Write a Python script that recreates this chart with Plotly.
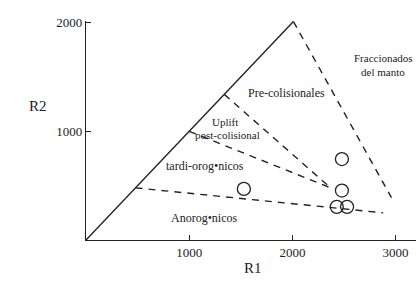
import plotly.graph_objects as go

# Field boundaries (R1, R2)
solid_x = [0, 2010]
solid_y = [0, 2010]
mantle_x = [2010, 2960]
mantle_y = [2010, 390]
uplift_top_x = [1340, 2370]
uplift_top_y = [1340, 480]
uplift_bot_x = [1000, 2370]
uplift_bot_y = [1000, 480]
anorog_x = [480, 2880]
anorog_y = [480, 250]

# Samples
samples_r1 = [1530, 2480, 2480, 2430, 2530]
samples_r2 = [470, 745, 455, 305, 305]

x_ticks = [1000, 2000, 3000]
y_ticks = [1000, 2000]

# Field labels
field_labels = ["Pre-colisionales", "Uplift", "post-colisional", "tardi-orog•nicos",
                "Anorog•nicos", "Fraccionados", "del manto"]
field_r1 = [1945, 1345, 1375, 1150, 1145, 2885, 2880]
field_r2 = [1355, 1090, 964, 682, 205, 1672, 1544]
field_sizes = [12, 11, 11, 12, 12, 11, 11]

fig = go.Figure()
dash = "7px,6px"
fig.add_trace(go.Scatter(x=solid_x, y=solid_y, mode="lines",
                         line=dict(color="#222", width=1.4), cliponaxis=False))
for xs, ys in [(mantle_x, mantle_y), (uplift_top_x, uplift_top_y),
               (uplift_bot_x, uplift_bot_y), (anorog_x, anorog_y)]:
    fig.add_trace(go.Scatter(x=xs, y=ys, mode="lines", cliponaxis=False,
                             line=dict(color="#222", width=1.4, dash=dash)))
fig.add_trace(go.Scatter(x=samples_r1, y=samples_r2, mode="markers", cliponaxis=False,
                         marker=dict(symbol="circle-open", size=13, color="#222",
                                     line=dict(width=1.3, color="#222"))))

for t, x, y, s in zip(field_labels, field_r1, field_r2, field_sizes):
    fig.add_annotation(x=x, y=y, text=t, showarrow=False,
                       font=dict(family="Liberation Serif", size=s, color="#222"))

fig.add_annotation(xref="paper", yref="paper", x=-0.179, y=0.612, text="R2", showarrow=False,
                   font=dict(family="Liberation Serif", size=15, color="#222"))
fig.add_annotation(x=1617, yref="paper", y=-0.174, text="R1", showarrow=False,
                   font=dict(family="Liberation Serif", size=15, color="#222"))

fig.update_layout(
    width=416, height=284,
    margin=dict(l=86, r=0, t=21, b=44),
    paper_bgcolor="white", plot_bgcolor="white",
    showlegend=False,
    font=dict(family="Liberation Serif", size=13, color="#222"),
)
fig.update_xaxes(range=[0, 3198], tickvals=x_ticks, ticks="inside", ticklen=5,
                 tickcolor="#222", showline=True, linecolor="#222", linewidth=1.4,
                 showgrid=False, zeroline=False)
fig.update_yaxes(range=[0, 2015], tickvals=y_ticks, ticks="inside", ticklen=5,
                 tickcolor="#222", showline=True, linecolor="#222", linewidth=1.4,
                 showgrid=False, zeroline=False)

fig.write_html("out.html", config={"displayModeBar": False},
               post_script="document.body.style.margin='0px';")
